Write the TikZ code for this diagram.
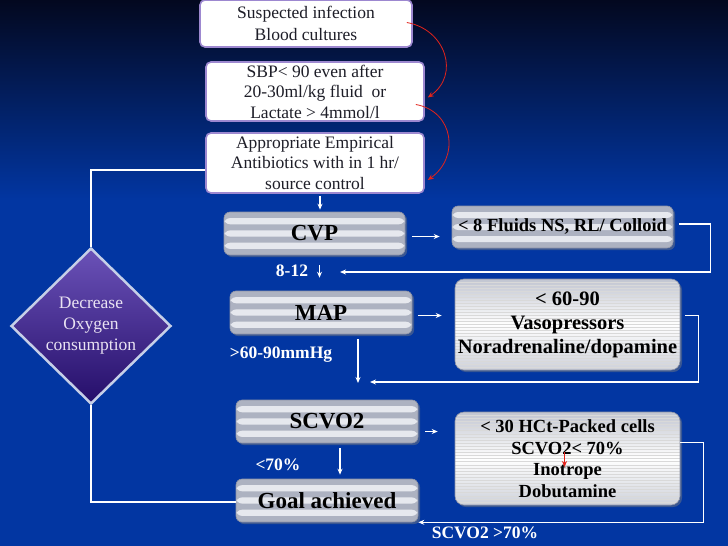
\documentclass[tikz,border=0pt]{standalone}
\usepackage{fontspec}
\setmainfont{Liberation Serif}
\usepackage{xcolor}
\usetikzlibrary{calc,shapes.geometric,arrows.meta,shadows}
\definecolor{navy}{HTML}{03081F}
\definecolor{royal}{HTML}{0236A2}
\definecolor{ink}{HTML}{1E1E28}
\definecolor{lilac}{HTML}{9D88D0}
\definecolor{stripe}{HTML}{ADB2C1}
\definecolor{band}{HTML}{E6E8EE}
\definecolor{edge}{HTML}{8C92A6}
\definecolor{plum}{HTML}{3A1D9C}
\definecolor{plumlight}{HTML}{6B52B8}
\definecolor{plumdark}{HTML}{250E6A}
\definecolor{frost}{HTML}{C6CFE8}
\definecolor{mist}{HTML}{E9E2F2}
\definecolor{alert}{HTML}{E3231B}
\begin{document}
\begin{tikzpicture}[x=1pt,y=1pt,every node/.style={inner sep=0pt},
   infobox/.style={draw=lilac,line width=1.6pt,fill=white,rounded corners=5pt,align=center,text=ink,font=\fontsize{17.5}{20.5}\selectfont},
   barbox/.style={draw=edge,line width=0.6pt,fill=stripe,rounded corners=6pt,align=center,text=black,
     drop shadow={opacity=0.45,shadow xshift=2pt,shadow yshift=-2pt},
     path picture={\foreach \a/\b in {1/2,3/4,5/6}
       \fill[band] ($(path picture bounding box.north west)!\a/7!(path picture bounding box.south west)$)
         rectangle ($(path picture bounding box.north east)!\b/7!(path picture bounding box.south east)$);}},
   treatbox/.style={draw=edge,line width=0.6pt,rounded corners=9pt,align=center,text=black,
     top color=stripe!75,bottom color=stripe!60,middle color=white,
     drop shadow={opacity=0.45,shadow xshift=2pt,shadow yshift=-2pt},
     path picture={\foreach \k in {1,...,29}
       \draw[black!15,line width=0.3pt] ($(path picture bounding box.north west)!\k/30!(path picture bounding box.south west)$)
         -- ($(path picture bounding box.north east)!\k/30!(path picture bounding box.south east)$);}},
   lbl/.style={text=white,font=\bfseries\fontsize{17.5}{20}\selectfont},
   arr/.style={draw=white,line width=1.2pt,-{Stealth[length=6pt,width=5pt]}},
   link/.style={draw=white,line width=1.5pt},
   redarr/.style={draw=alert,line width=0.8pt,-{Stealth[length=6pt,width=5pt]}}]
% background
\fill[royal] (0,0) rectangle (728,-546);
\shade[top color=navy,bottom color=royal] (0,0) rectangle (728,-200);
\useasboundingbox (0,0) rectangle (728,-546);
% entry boxes
\node[infobox,minimum width=212,minimum height=47,font=\fontsize{17.5}{22}\selectfont] (infect) at (306,-23.5) {Suspected infection\\Blood cultures};
\node[infobox,minimum width=218,minimum height=59] (sbp) at (315,-91.5) {SBP< 90 even after\\20-30ml/kg fluid~ or\\Lactate > 4mmol/l};
\node[infobox,minimum width=218,minimum height=60] (abx) at (315,-163) {Appropriate Empirical\\Antibiotics with in 1 hr/\\source control};
% goal boxes
\node[barbox,minimum width=181,minimum height=43,font=\bfseries\fontsize{23}{26}\selectfont] (cvp) at (314.5,-233.5) {CVP};
\node[barbox,minimum width=182,minimum height=43,font=\bfseries\fontsize{23}{26}\selectfont] (map) at (321,-312.5) {MAP};
\node[barbox,minimum width=182,minimum height=43,font=\bfseries\fontsize{23}{26}\selectfont] (scvo) at (327,-421.5) {SCVO2};
\node[barbox,minimum width=182,minimum height=43,font=\bfseries\fontsize{23}{26}\selectfont] (goal) at (327,-500.5) {Goal achieved};
% treatment boxes
\node[barbox,minimum width=221,minimum height=42,font=\bfseries\fontsize{18.5}{20}\selectfont] (fluids) at (562.5,-227) {< 8 Fluids NS, RL/ Colloid};
\node[treatbox,minimum width=225,minimum height=91,font=\bfseries\fontsize{20.5}{24}\selectfont] (vaso) at (567.5,-324.5) {< 60-90\\Vasopressors\\Noradrenaline/dopamine};
\node[treatbox,minimum width=225,minimum height=93,font=\bfseries\fontsize{18.5}{21.5}\selectfont] (packed) at (567.5,-458.5) {< 30 HCt-Packed cells\\SCVO2< 70\%\\Inotrope\\Dobutamine};
% decision
\node[diamond,draw=frost,line width=2.5pt,top color=plumlight,middle color=plum,bottom color=plumdark,
  minimum width=160,minimum height=156,text=mist,align=center,font=\fontsize{17.5}{21}\selectfont] (dec) at (91,-326) {Decrease\\Oxygen\\consumption};
% labels
\node[lbl] (l1) at (292,-271) {8-12};
\node[lbl] (l2) at (281,-355) {>60-90mmHg};
\node[lbl] (l3) at (278,-465) {<70\%};
\node[lbl] (l4) at (485,-533) {SCVO2 >70\%};
% merge points
\coordinate (m1) at (340,-272);
\coordinate (m2) at (370,-382);
\coordinate (m3) at (358,-383);
% red arrows
\draw[redarr] ([xshift=-6pt,yshift=1pt]infect.east) to[out=-10,in=35,looseness=1.3] ([xshift=3pt,yshift=-6pt]sbp.east);
\draw[redarr] ([xshift=-9pt,yshift=-13pt]sbp.east) to[out=-10,in=35,looseness=1.3] ([xshift=3pt,yshift=-17pt]abx.east);
\draw[redarr] ([xshift=-3pt,yshift=6.5pt]packed.center) -- ([xshift=-3pt,yshift=-8.5pt]packed.center);
% flow
\draw[arr,shorten <=2pt,shorten >=2pt] ([xshift=5pt]abx.south) -- ([xshift=5pt]abx.south |- cvp.north);
\draw[arr,shorten <=10pt,shorten >=13pt] ([xshift=5pt]cvp.south) -- ([xshift=5pt]cvp.south |- map.north);
\draw[arr,shorten <=7pt,shorten >=12pt] ([yshift=-3pt]cvp.east) -- ([yshift=-3pt]cvp.east -| fluids.west);
\draw[arr] ([xshift=6pt,yshift=3pt]fluids.east) -- ++(31,0) |- (m1);
\draw[arr,shorten <=6pt,shorten >=13pt] ([yshift=-3pt]map.east) -- ([yshift=-3pt]map.east -| vaso.west);
\draw[arr] ([xshift=5pt,yshift=9pt]vaso.east) -- ++(13,0) |- (m2);
\draw[arr,shorten <=5pt] (map.south -| m3) -- (m3);
\draw[arr,shorten <=7pt,shorten >=17pt] ([yshift=-10pt]scvo.east) -- ([yshift=-10pt]scvo.east -| packed.west);
\draw[arr] ([yshift=16pt]packed.east) -- ++(23,0) |- (goal.south east);
\draw[arr,shorten <=5pt,shorten >=4pt] ([xshift=13pt]scvo.south) -- ([xshift=13pt]scvo.south |- goal.north);
% decision loop
\draw[link] (dec.north) |- ([yshift=-7pt]abx.west);
\draw[link] (dec.south) |- ([yshift=-1.5pt]goal.west);
\end{tikzpicture}
\end{document}
